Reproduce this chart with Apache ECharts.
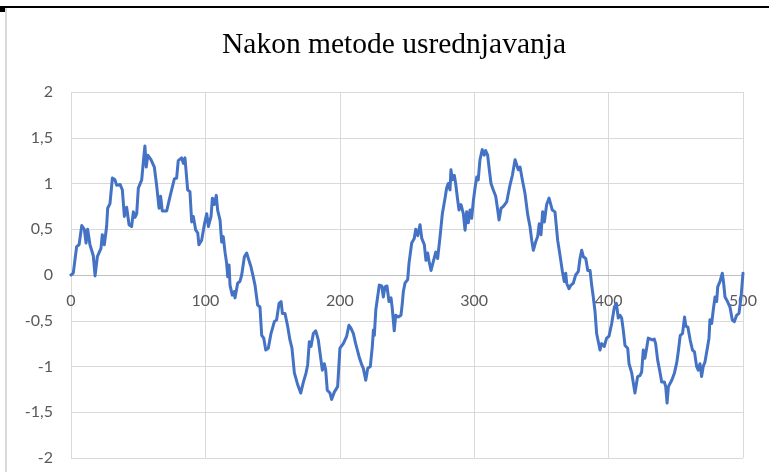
<!DOCTYPE html>
<html>
<head>
<meta charset="utf-8">
<script src="https://cdn.jsdelivr.net/npm/echarts@6/dist/echarts.min.js"></script>
<style>
  html, body { margin: 0; padding: 0; background: #fff; }
  #chart { width: 769px; height: 472px; }
</style>
</head>
<body>
<div id="chart"></div>
<script>
// values
var titleText = 'Nakon metode usrednjavanja';
var xTicks = [0, 100, 200, 300, 400, 500];
var yTicks = [-2, -1.5, -1, -0.5, 0, 0.5, 1, 1.5, 2];

var xs = [
  0, 1.7, 4.2, 6, 8, 9.9, 11.2, 12.4, 14.1, 16.6, 17.9, 19.6, 22.3, 23.3, 24.8, 26.5, 27.3, 29, 30.8, 32.7,
  34, 36.5, 38.2, 39.7, 41.4, 43.2, 45.1, 46.4, 47.6, 48.9, 50.1, 52.6, 54.1, 55, 56, 57.1, 59.5, 62, 63.8, 65.5,
  66.7, 67.9, 71.2, 73.7, 74.9, 76.9, 78.6, 79.8, 82.3, 83.6, 84.8, 86.8, 88.5, 89.8, 91, 92.8, 94.3, 95.2, 97.2, 99.2,
  101, 102.2, 104.2, 105.2, 106.6, 108.1, 109.1, 110.9, 112.1, 113.3, 114.6, 115.8, 116.6, 117.6, 118.3, 120, 121.5, 122, 124, 125.7,
  127, 129, 130.7, 132.4, 133.9, 135.6, 136.9, 138.9, 140.6, 141.9, 143.4, 144.9, 146.8, 148.8, 151.3, 153, 154.8, 156.3, 157.3, 159.2,
  161.2, 162.9, 164.4, 166.2, 168.7, 170.9, 172.9, 174.9, 176.1, 177.3, 178.6, 180.3, 182.1, 184, 186, 187, 188.5, 189.5, 190.7, 192.7,
  193.9, 195.9, 198.4, 200.1, 202.6, 205.1, 206.8, 208.3, 210.1, 211.8, 214.3, 216.3, 217.5, 219.3, 220.8, 222.7, 224.2, 225, 225.7, 226.8,
  228.2, 229.4, 231.2, 232.4, 233.6, 235.1, 236.6, 238.1, 239, 240.5, 241.6, 243.5, 245.5, 246.5, 247.3, 248.5, 250.5, 251.5, 253.5, 255.4,
  256.5, 258, 259.7, 261, 262.9, 264.1, 265.4, 266.4, 267.9, 269.6, 271.4, 272.8, 274.6, 276.3, 278.3, 279.5, 280.7, 282, 282.7, 283.7,
  285.2, 286.2, 287.7, 288.7, 290.2, 291.9, 293.2, 294.4, 295.6, 296.9, 298.1, 299.3, 300.6, 301.9, 303, 304.3, 306, 307.5, 308.5, 310,
  311, 312.5, 314.2, 316, 317.5, 318.5, 320, 321.7, 324.2, 326.6, 328.4, 330.4, 331.6, 332.8, 334.1, 335.8, 337.8, 339.8, 341.5, 342.8,
  344, 345.7, 347.2, 348.4, 349.7, 350.9, 352.2, 353.9, 355.7, 357.1, 358.1, 360.1, 362.1, 363.8, 365.6, 367, 368.1, 368.8, 370.5, 372,
  373.7, 375.5, 377.5, 378.7, 380, 381.2, 383, 384.5, 386.2, 387.4, 388.6, 389.9, 391.1, 392.4, 393.6, 394.8, 396.8, 398.5, 400.3, 402.3,
  404.3, 405.8, 407.2, 408.5, 409.7, 410.9, 412.2, 414.2, 415.2, 417.2, 418.4, 419.6, 420.9, 421.6, 423.3, 424.6, 425.8, 427, 428.3, 429.5,
  430.8, 432.5, 434, 435, 436.5, 438.2, 439.5, 441.5, 442.5, 443.5, 444.5, 445.8, 447, 449, 450.8, 452, 453.3, 455, 456.5, 457.5,
  459, 460.7, 462.4, 463.9, 465.5, 466.7, 468, 469.2, 470.4, 471.7, 473.7, 474.7, 475.4, 476.7, 477.9, 479.2, 480.4, 481.2, 482.9, 484.6,
  485.6, 486.6, 488.5, 490.3, 492, 493.5, 495.3, 497, 498.5, 500
];
var ys = [
  0, 0.02, 0.31, 0.33, 0.54, 0.5, 0.35, 0.5, 0.33, 0.21, -0.01, 0.2, 0.29, 0.44, 0.33, 0.53, 0.73, 0.78, 1.06, 1.04,
  0.98, 0.99, 0.93, 0.64, 0.74, 0.55, 0.53, 0.69, 0.63, 0.67, 0.95, 1.04, 1.28, 1.41, 1.18, 1.31, 1.26, 1.18, 0.97, 0.73,
  0.86, 0.7, 0.7, 0.86, 0.84, 1.05, 1.06, 1.25, 1.28, 1.22, 1.28, 0.93, 0.91, 0.58, 0.64, 0.49, 0.46, 0.33, 0.38, 0.55,
  0.67, 0.53, 0.64, 0.84, 0.77, 0.87, 0.71, 0.6, 0.36, 0.42, 0.25, 0.13, -0.02, 0.11, -0.11, -0.22, -0.18, -0.25, -0.09, -0.07,
  0, 0.2, 0.24, 0.16, 0.09, -0.02, -0.11, -0.33, -0.35, -0.66, -0.69, -0.82, -0.8, -0.64, -0.51, -0.49, -0.31, -0.29, -0.42, -0.42,
  -0.56, -0.71, -0.8, -1.07, -1.2, -1.29, -1.17, -1.07, -0.98, -0.73, -0.78, -0.64, -0.61, -0.71, -0.93, -1.04, -0.97, -1.04, -1.26, -1.29,
  -1.36, -1.28, -1.22, -0.8, -0.75, -0.67, -0.55, -0.58, -0.64, -0.75, -0.89, -0.98, -1.02, -1.15, -1.02, -1, -0.78, -0.6, -0.66, -0.38,
  -0.36, -0.11, -0.12, -0.24, -0.13, -0.12, -0.29, -0.25, -0.36, -0.61, -0.44, -0.46, -0.44, -0.31, -0.18, -0.09, -0.05, 0.13, 0.35, 0.4,
  0.5, 0.43, 0.55, 0.4, 0.33, 0.16, 0.24, 0.15, 0.05, 0.15, 0.25, 0.18, 0.42, 0.67, 0.84, 0.95, 1, 0.93, 1.15, 1.04,
  1.09, 1, 0.82, 0.71, 0.77, 0.67, 0.49, 0.69, 0.57, 0.71, 0.62, 0.8, 0.95, 1.07, 1.04, 1.26, 1.37, 1.31, 1.36, 1.31,
  1.18, 1, 0.93, 0.86, 0.71, 0.6, 0.73, 0.75, 0.8, 0.98, 1.09, 1.26, 1.26, 1.15, 1.18, 1.04, 0.89, 0.66, 0.53, 0.38,
  0.27, 0.36, 0.42, 0.56, 0.44, 0.69, 0.58, 0.77, 0.84, 0.86, 0.71, 0.69, 0.38, 0.22, 0.04, -0.07, 0.02, -0.09, -0.15, -0.11,
  -0.09, 0, 0.04, 0.18, 0.27, 0.2, 0.18, 0.05, 0.05, -0.11, -0.24, -0.4, -0.64, -0.66, -0.82, -0.75, -0.78, -0.69, -0.67, -0.53,
  -0.35, -0.31, -0.47, -0.44, -0.47, -0.6, -0.77, -0.8, -0.97, -1.07, -1.18, -1.29, -1.28, -1.11, -1.1, -1.06, -0.82, -0.91, -0.8, -0.69,
  -0.67, -0.71, -0.7, -0.75, -0.93, -1.06, -1.17, -1.17, -1.22, -1.4, -1.22, -1.24, -1.15, -1.07, -0.95, -0.82, -0.66, -0.64, -0.46, -0.56,
  -0.57, -0.71, -0.82, -0.84, -1, -1.04, -0.97, -1.11, -1, -0.95, -0.78, -0.69, -0.49, -0.53, -0.38, -0.24, -0.29, -0.13, -0.07, 0.02,
  -0.09, -0.24, -0.29, -0.35, -0.49, -0.51, -0.44, -0.42, -0.25, 0.02
];

var points = xs.map(function (x, i) { return [x, ys[i]]; });

var myChart = echarts.init(document.getElementById('chart'));

var option = {
  animation: false,
  backgroundColor: '#fff',
  title: {
    text: titleText,
    left: 217,
    top: 25,
    textStyle: {
      fontFamily: '"Liberation Serif", "DejaVu Serif", serif',
      fontWeight: 'normal',
      fontSize: 29.5,
      color: '#000'
    }
  },
  grid: {
    left: 71,
    right: 26,
    top: 92,
    bottom: 14,
    containLabel: false,
    outerBoundsMode: 'none'
  },
  xAxis: {
    type: 'value',
    min: xTicks[0],
    max: xTicks[xTicks.length - 1],
    interval: 100,
    // x axis sits on the zero line (458 - 275 = 183 px up from the grid bottom)
    offset: -183,
    axisLine: {
      show: true,
      onZero: false,
      lineStyle: { color: '#bfbfbf', width: 1 }
    },
    axisTick: { show: false },
    axisLabel: {
      color: '#595959',
      fontSize: 16,
      fontFamily: 'Lato, "Open Sans", sans-serif',
      margin: 18
    },
    splitLine: {
      show: true,
      lineStyle: { color: '#d9d9d9', width: 1 }
    }
  },
  yAxis: {
    type: 'value',
    min: yTicks[0],
    max: yTicks[yTicks.length - 1],
    interval: 0.5,
    axisLine: { show: false },
    axisTick: { show: false },
    axisLabel: {
      color: '#595959',
      fontSize: 16,
      fontFamily: 'Lato, "Open Sans", sans-serif',
      margin: 18,
      formatter: function (v) {
        return String(v).replace('.', ',');
      }
    },
    splitLine: {
      show: true,
      lineStyle: { color: '#d9d9d9', width: 1 }
    }
  },
  graphic: [
    { type: 'rect', shape: { x: 0, y: 6, width: 769, height: 2 }, style: { fill: '#000' }, z: 100 },
    { type: 'rect', shape: { x: 0, y: 6, width: 5, height: 6 }, style: { fill: '#000' }, z: 100 },
    { type: 'rect', shape: { x: 5, y: 8, width: 2, height: 464 }, style: { fill: '#d9d9d9' }, z: 100 }
  ],
  series: [{
    type: 'line',
    data: points,
    showSymbol: false,
    lineStyle: { color: '#4472c4', width: 3, join: 'round', cap: 'round' },
    itemStyle: { color: '#4472c4' }
  }]
};
myChart.setOption(option);

window.addEventListener('resize', function () {
  myChart.resize();
});
</script>
</body>
</html>
